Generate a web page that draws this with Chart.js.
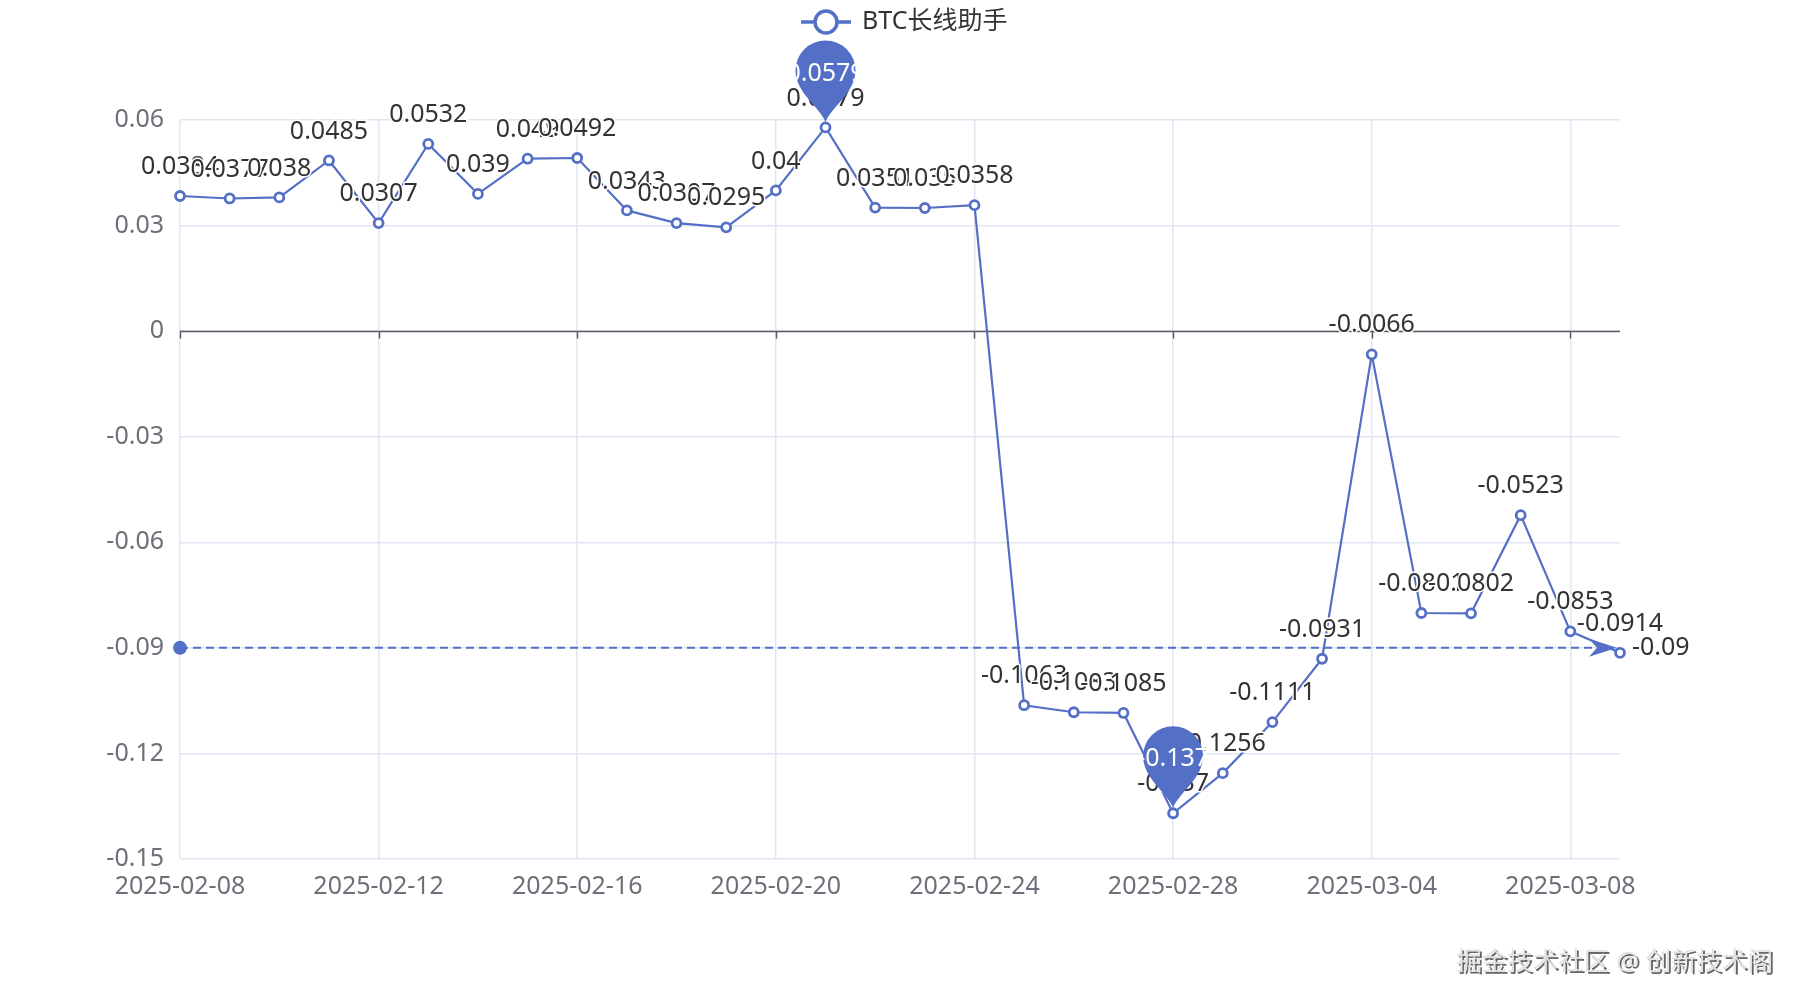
<!DOCTYPE html>
<html>
<head>
<meta charset="utf-8">
<script src="https://cdn.jsdelivr.net/npm/chart.js@4.4.1/dist/chart.umd.min.js"></script>
<style>
  body { margin: 0; background: #fff; }
  #wrap { width: 1800px; height: 1000px; }
</style>
</head>
<body>
<div id="wrap"><canvas id="btcChart" width="1800" height="1000"></canvas></div>
<script>
const seriesName = "BTC长线助手";
const watermarkText = "掘金技术社区 @ 创新技术阁";

const dates = [
    "2025-02-08", "2025-02-09", "2025-02-10", "2025-02-11", "2025-02-12", "2025-02-13",
    "2025-02-14", "2025-02-15", "2025-02-16", "2025-02-17", "2025-02-18", "2025-02-19",
    "2025-02-20", "2025-02-21", "2025-02-22", "2025-02-23", "2025-02-24", "2025-02-25",
    "2025-02-26", "2025-02-27", "2025-02-28", "2025-03-01", "2025-03-02", "2025-03-03",
    "2025-03-04", "2025-03-05", "2025-03-06", "2025-03-07", "2025-03-08", "2025-03-09"
];
const returns = [
    0.0384, 0.0377, 0.038, 0.0485, 0.0307, 0.0532,
    0.039, 0.049, 0.0492, 0.0343, 0.0307, 0.0295,
    0.04, 0.0579, 0.0351, 0.035, 0.0358, -0.1063,
    -0.1083, -0.1085, -0.137, -0.1256, -0.1111, -0.0931,
    -0.0066, -0.0801, -0.0802, -0.0523, -0.0853, -0.0914
];
const yMin = -0.15;
const yMax = 0.06;
const yStep = 0.03;
const refLineValue = -0.09;
const labelEvery = 4;

const blue = "#5470c6";
const axisGrey = "#6E7079";
const gridGrey = "#E0E6F1";
const textDark = "#333";
const fontStack = '"Noto Sans", "Noto Sans CJK SC", sans-serif';

Chart.defaults.font.family = fontStack;

function fmt(v)
{
    return String(Number(v.toFixed(4)));
}

// zero axis line with ticks, drawn over the grid
const zeroAxis = {
    id: "zeroAxis",
    beforeDatasetsDraw(chart){
        const {ctx, chartArea, scales} = chart;
        const y0 = Math.round(scales.y.getPixelForValue(0)) + 0.5;
        ctx.save();
        ctx.strokeStyle = "#5a5c63";
        ctx.lineWidth = 1.5;
        ctx.beginPath();
        ctx.moveTo(chartArea.left, y0);
        ctx.lineTo(chartArea.right, y0);
        dates.forEach((d, i) => {
            if(i % labelEvery !== 0) return;
            const x = Math.round(scales.x.getPixelForValue(i)) + 0.5;
            ctx.moveTo(x, y0);
            ctx.lineTo(x, y0 + 7);
        });
        ctx.stroke();
        ctx.restore();
    }
};

function drawPin(ctx, x, tipY, text)
{
    const r = 30;
    const cy = tipY - 52;
    ctx.save();
    ctx.fillStyle = blue;
    ctx.beginPath();
    ctx.moveTo(x, tipY);
    ctx.bezierCurveTo(x - 4, tipY - 14, x - r, cy + r * 0.75, x - r, cy);
    ctx.arc(x, cy, r, Math.PI, 0);
    ctx.bezierCurveTo(x + r, cy + r * 0.75, x + 4, tipY - 14, x, tipY);
    ctx.closePath();
    ctx.fill();
    ctx.fillStyle = "#fff";
    ctx.font = "25px " + fontStack;
    ctx.textAlign = "center";
    ctx.textBaseline = "middle";
    ctx.fillText(text, x, cy + 3);
    ctx.restore();
}

function drawArrow(ctx, x, y)
{
    ctx.save();
    ctx.fillStyle = blue;
    ctx.beginPath();
    ctx.moveTo(x, y);
    ctx.lineTo(x - 28, y - 9);
    ctx.lineTo(x - 20, y);
    ctx.lineTo(x - 28, y + 9);
    ctx.closePath();
    ctx.fill();
    ctx.restore();
}

const overlays = {
    id: "overlays",
    afterDatasetsDraw(chart){
        const {ctx, chartArea, scales} = chart;
        const meta = chart.getDatasetMeta(0);

        // value labels
        ctx.save();
        ctx.font = "25px " + fontStack;
        ctx.textAlign = "center";
        ctx.textBaseline = "middle";
        ctx.lineJoin = "round";
        meta.data.forEach((pt, i) => {
            const t = fmt(returns[i]);
            ctx.strokeStyle = "#fff";
            ctx.lineWidth = 3;
            ctx.strokeText(t, pt.x, pt.y - 29);
            ctx.fillStyle = textDark;
            ctx.fillText(t, pt.x, pt.y - 29);
        });
        ctx.restore();

        // reference line
        const yr = scales.y.getPixelForValue(refLineValue);
        const xs = scales.x.getPixelForValue(0);
        const xe = scales.x.getPixelForValue(dates.length - 1);
        ctx.save();
        ctx.strokeStyle = blue;
        ctx.lineWidth = 2;
        ctx.setLineDash([8, 5]);
        ctx.beginPath();
        ctx.moveTo(xs, yr);
        ctx.lineTo(xe - 20, yr);
        ctx.stroke();
        ctx.setLineDash([]);
        ctx.fillStyle = blue;
        ctx.beginPath();
        ctx.arc(xs, yr, 7, 0, Math.PI * 2);
        ctx.fill();
        ctx.restore();
        drawArrow(ctx, xe - 3, yr);
        ctx.save();
        ctx.font = "25px " + fontStack;
        ctx.fillStyle = textDark;
        ctx.textBaseline = "middle";
        ctx.fillText(fmt(refLineValue), xe + 12, yr);
        ctx.restore();

        // max / min pins
        const maxIdx = returns.indexOf(Math.max(...returns));
        const minIdx = returns.indexOf(Math.min(...returns));
        [maxIdx, minIdx].forEach(i => {
            const pt = meta.data[i];
            drawPin(ctx, pt.x, pt.y - 5, fmt(returns[i]));
        });
    },
    afterDraw(chart){
        const {ctx} = chart;
        // legend
        ctx.save();
        ctx.strokeStyle = blue;
        ctx.lineWidth = 3.5;
        ctx.beginPath();
        ctx.moveTo(801, 22);
        ctx.lineTo(851, 22);
        ctx.stroke();
        ctx.fillStyle = "#fff";
        ctx.beginPath();
        ctx.arc(826, 22, 11, 0, Math.PI * 2);
        ctx.fill();
        ctx.stroke();
        ctx.font = "25px " + fontStack;
        ctx.fillStyle = textDark;
        ctx.textBaseline = "middle";
        ctx.fillText(seriesName, 862, 22);

        // watermark
        ctx.font = "25.5px " + fontStack;
        ctx.textAlign = "right";
        ctx.fillStyle = "#666";
        ctx.fillText(watermarkText, 1775, 965);
        ctx.fillStyle = "#e2e2e2";
        ctx.fillText(watermarkText, 1773, 963);
        ctx.restore();
    }
};

const ctx = document.getElementById("btcChart").getContext("2d");

new Chart(ctx, {
    type: "line",
    data: {
        labels: dates,
        datasets: [{
            label: seriesName,
            data: returns,
            borderColor: blue,
            borderWidth: 2.2,
            backgroundColor: "#fff",
            pointBackgroundColor: "#fff",
            pointBorderColor: blue,
            pointBorderWidth: 2.8,
            pointRadius: 4.5,
            tension: 0,
            fill: false
        }]
    },
    options: {
        responsive: false,
        animation: false,
        devicePixelRatio: 1,
        layout: {
            padding: {top: 120, right: 180, bottom: 0, left: 0}
        },
        plugins: {
            legend: {display: false},
            tooltip: {enabled: false}
        },
        scales: {
            x: {
                type: "category",
                offset: false,
                afterFit: s => { s.height = 141; },
                border: {display: false},
                grid: {
                    drawTicks: false,
                    color: c => (c.index % labelEvery === 0 ? gridGrey : "rgba(0,0,0,0)"),
                    lineWidth: 1.5
                },
                ticks: {
                    autoSkip: false,
                    maxRotation: 0,
                    padding: 13,
                    color: axisGrey,
                    font: {size: 25},
                    callback: function(v, i){ return i % labelEvery === 0 ? dates[i] : ""; }
                }
            },
            y: {
                min: yMin,
                max: yMax,
                afterFit: s => { s.width = 180; },
                border: {display: false},
                grid: {drawTicks: false, color: gridGrey, lineWidth: 1.5},
                ticks: {
                    stepSize: yStep,
                    padding: 16,
                    color: axisGrey,
                    font: {size: 25},
                    callback: v => String(Number(v.toFixed(2)))
                }
            }
        }
    },
    plugins: [zeroAxis, overlays]
});
</script>
</body>
</html>
